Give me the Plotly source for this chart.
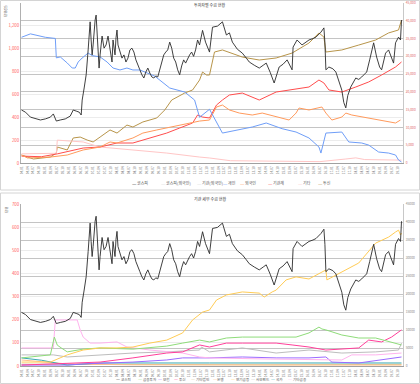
import plotly.graph_objects as go

FONT = "Noto Sans CJK KR, Noto Sans, DejaVu Sans, sans-serif"
W, H = 420, 384

# ---------------- x axis: half-month period index, quarterly tick labels ----------------
tick_periods = [q * 6 for q in range(64)]
tick_labels = [f"{(2004 + q // 4) % 100:02d}.{(q % 4) * 3 + 1:02d}" for q in range(64)]

# ---------------- index line (right axis, both panels) ----------------
kospi_t = [0, 4, 9, 14, 19, 24, 29, 32, 35, 39, 44, 49, 52, 55, 58, 60, 61, 63, 65, 67, 68, 69, 70, 71,
           72, 73, 74, 75, 76, 77, 78, 79, 81, 83, 85, 87, 89, 91, 92, 94, 95, 96, 97, 99, 101, 103, 105,
           107, 109, 111, 113, 115, 117, 119, 121, 123, 125, 127, 129, 131, 133, 135, 137, 139, 141, 143,
           145, 147, 149, 151, 153, 155, 157, 159, 161, 163, 165, 167, 169, 171, 173, 175, 177, 179, 182,
           185, 189, 192, 197, 202, 206, 209, 212, 217, 222, 226, 229, 234, 239, 243, 246, 250, 254, 259,
           263, 267, 272, 273, 277, 282, 286, 289, 293, 296, 301, 303, 304, 305, 306, 309, 313, 316, 319,
           322, 324, 326, 328, 331, 336, 339, 342, 347, 350, 352, 354, 357, 360, 362, 366, 369, 372, 374,
           376, 379, 381, 382]
kospi_v = [14900, 14300, 12900, 12400, 12100, 12400, 12900, 13800, 11800, 12100, 12400, 13200, 14900, 14600,
           14300, 13500, 17700, 21100, 24800, 31800, 36000, 39700, 34600, 30400, 33200, 37400, 40200, 41600,
           35700, 29000, 26700, 30400, 35700, 32300, 33200, 35700, 31200, 28400, 34600, 30400, 35200, 37400,
           33200, 31200, 29500, 30400, 28400, 29500, 31800, 32300, 31200, 29000, 27300, 26200, 24800, 23900,
           25600, 26700, 25300, 24200, 23900, 24500, 24200, 26200, 28100, 30400, 31200, 31800, 34000, 32300,
           29500, 28400, 26200, 24800, 27300, 29000, 28100, 29500, 30400, 31200, 30000, 31800, 34600, 33200,
           37300, 34000, 31200, 38200, 38500, 39700, 36000, 36600, 34000, 32000, 30900, 29500, 28400, 27500,
           26700, 27500, 28100, 25500, 22500, 27000, 27800, 29000, 26200, 32600, 34600, 33200, 34000, 34600,
           35000, 35400, 36800, 37400, 38000, 33800, 26200, 27000, 26500, 25600, 23300, 20500, 17000, 15500,
           19000, 21400, 23900, 23500, 24200, 25600, 29000, 31800, 33800, 29800, 27000, 26200, 30900, 31800,
           29800, 28100, 33800, 35400, 34600, 40200]

# ---------------- top panel series (left axis) ----------------
retail_t = [0, 9, 24, 34, 35, 39, 46, 51, 54, 57, 61, 67, 71, 79, 86, 92, 99, 106, 112, 119, 134, 149, 164,
            174, 179, 189, 202, 212, 222, 232, 246, 252, 262, 276, 289, 299, 301, 306, 322, 329, 342, 349,
            359, 369, 376, 379, 382]
retail_v = [1100, 1130, 1100, 1090, 920, 928, 875, 831, 831, 884, 919, 962, 940, 928, 884, 831, 814, 831,
            814, 814, 760, 656, 621, 551, 400, 470, 262, 280, 300, 315, 350, 332, 300, 271, 219, 140, 87, 262,
            271, 184, 175, 157, 96, 87, 70, 26, 9]

foreign_t = [0, 6, 29, 46, 62, 79, 89, 96, 112, 122, 136, 146, 159, 172, 179, 189, 196, 202, 209, 219, 232,
             242, 256, 269, 276, 279, 289, 302, 306, 312, 322, 326, 332, 349, 362, 376, 381]
foreign_v = [70, 44, 52, 70, 114, 140, 184, 175, 219, 262, 289, 306, 332, 350, 367, 376, 490, 507, 464, 437,
             420, 437, 402, 376, 437, 481, 464, 490, 437, 376, 402, 437, 420, 394, 376, 350, 376]

inst_t = [0, 20, 36, 62, 79, 96, 112, 129, 146, 159, 172, 177, 182, 189, 196, 202, 209, 222, 239, 256, 269,
          289, 299, 304, 309, 322, 336, 349, 362, 376, 382]
inst_v = [60, 55, 80, 131, 140, 175, 175, 219, 262, 306, 350, 420, 402, 394, 507, 551, 595, 612, 551, 621,
          639, 665, 726, 700, 639, 621, 665, 709, 770, 840, 884]

other_t = [0, 29, 35, 36, 62, 79, 112, 146, 179, 189, 210, 250, 300, 326, 336, 345, 382]
other_v = [80, 80, 85, 200, 184, 140, 114, 87, 52, 44, 20, 15, 12, 35, 45, 30, 25]

trust_t = [0, 12, 29, 35, 36, 46, 52, 59, 66, 72, 79, 86, 89, 96, 106, 112, 122, 136, 144, 151, 164, 172,
           179, 182, 186, 189, 194, 202, 222, 239, 256, 272, 289, 299, 304, 306, 322, 339, 356, 369, 379, 382]
trust_v = [70, 35, 52, 87, 140, 114, 219, 227, 201, 184, 227, 271, 289, 262, 332, 315, 359, 394, 464, 551,
           612, 639, 726, 796, 770, 770, 971, 989, 927, 901, 919, 962, 1050, 1138, 1102, 971, 989, 1032,
           1076, 1138, 1164, 1251]

# ---------------- bottom panel series (left axis) ----------------
pension_t = [0, 29, 46, 62, 79, 96, 112, 129, 146, 162, 172, 182, 189, 196, 206, 222, 239, 244, 252, 256,
             266, 276, 289, 306, 307, 322, 339, 356, 362, 369, 376, 379, 381, 382]
pension_v = [17, 17, 48, 69, 78, 78, 82, 99, 112, 143, 199, 233, 242, 285, 307, 320, 315, 298, 320, 328,
             372, 385, 376, 415, 372, 406, 445, 531, 544, 557, 579, 587, 566, 574]

fininv_t = [0, 29, 33, 36, 40, 46, 62, 79, 112, 146, 162, 179, 189, 206, 222, 256, 276, 289, 299, 302, 306,
            322, 339, 356, 372, 382]
fininv_v = [35, 48, 125, 90, 78, 61, 73, 78, 73, 86, 99, 112, 104, 121, 125, 125, 125, 143, 168, 160, 156,
            134, 121, 121, 104, 91]

invtrust_t = [0, 62, 79, 112, 146, 162, 179, 189, 206, 222, 256, 272, 289, 306, 322, 339, 349, 362, 372, 382]
invtrust_v = [4, 13, 17, 35, 56, 61, 91, 82, 99, 99, 99, 91, 82, 69, 73, 78, 112, 104, 125, 156]

otherfin_t = [0, 32, 34, 46, 56, 59, 62, 69, 79, 96, 106, 129, 146, 162, 179, 189, 250, 322, 332, 356, 382]
otherfin_v = [78, 78, 199, 199, 199, 156, 125, 99, 99, 104, 82, 69, 61, 56, 39, 35, 30, 26, 48, 48, 56]

private_t = [0, 32, 46, 79, 112, 146, 179, 181, 189, 222, 256, 289, 306, 322, 356, 379, 382]
private_v = [48, 48, 39, 48, 56, 61, 69, 82, 61, 78, 56, 69, 61, 56, 61, 69, 99]

insur_t = [0, 46, 62, 112, 146, 162, 189, 222, 256, 289, 306, 312, 339, 362, 382]
insur_v = [4, 4, 9, 17, 26, 35, 35, 39, 35, 35, 39, 17, 13, 26, 39]

nation_t = [0, 20, 46, 79, 189, 382]
nation_v = [35, 25, 4, 13, 13, 13]

bank_t = [0, 46, 112, 382]
bank_v = [26, 9, 5, 4]

corp_t = [0, 112, 250, 382]
corp_v = [8, 6, 5, 7]

# ---------------- figure ----------------
def px_x(p):
    return p / W

def px_y(p):
    return 1 - p / H

fig = go.Figure()

def line(t, v, color, xa, ya, width=1.0):
    fig.add_trace(go.Scatter(x=t, y=v, mode="lines", line=dict(color=color, width=width),
                             xaxis=xa, yaxis=ya, showlegend=False, hoverinfo="skip"))

C = dict(kospi="#2a2a2a", retail="#6f9ef8", foreign="#ff9a5c", inst="#ff4d4d", other="#ffc6c6",
         trust="#b8954a", pension="#ffcc55", fininv="#8fdc7a", invtrust="#ff3f9a", otherfin="#ffb3ee",
         private="#bdbdbd", insur="#9b6bff", nation="#3aa8b0", bank="#ffbe8c", corp="#d8c890")

# top panel
line(trust_t, trust_v, C["trust"], "x", "y")
line(other_t, other_v, C["other"], "x", "y")
line(inst_t, inst_v, C["inst"], "x", "y")
line(foreign_t, foreign_v, C["foreign"], "x", "y")
line(retail_t, retail_v, C["retail"], "x", "y")
line(kospi_t, kospi_v, C["kospi"], "x", "y2", 0.9)

# bottom panel
line(corp_t, corp_v, C["corp"], "x2", "y3")
line(bank_t, bank_v, C["bank"], "x2", "y3")
line(nation_t, nation_v, C["nation"], "x2", "y3")
line(insur_t, insur_v, C["insur"], "x2", "y3")
line(private_t, private_v, C["private"], "x2", "y3")
line(otherfin_t, otherfin_v, C["otherfin"], "x2", "y3")
line(invtrust_t, invtrust_v, C["invtrust"], "x2", "y3")
line(fininv_t, fininv_v, C["fininv"], "x2", "y3")
line(pension_t, pension_v, C["pension"], "x2", "y3")
line(kospi_t, kospi_v, C["kospi"], "x2", "y4", 0.9)

xdom = [px_x(21), px_x(403)]
top_dom = [px_y(163), px_y(3)]
bot_dom = [px_y(366), px_y(204)]

xcommon = dict(domain=xdom, range=[-0.5, 383.5], tickmode="array", tickvals=tick_periods,
               ticktext=tick_labels, tickangle=-90, tickfont=dict(size=3.2, color="#666", family=FONT),
               showgrid=False, showline=True, linecolor="#a0a0a0", linewidth=1, ticks="",
               zeroline=False, automargin=False, fixedrange=True, ticklabelstandoff=1)

def yleft(dom, rng, dt, fmt):
    return dict(domain=dom, range=rng, dtick=dt, tickformat=fmt, showline=True, linecolor="#b0b0b0",
                linewidth=1, showgrid=True, gridcolor="#ececec", gridwidth=1, zeroline=False, ticks="",
                tickfont=dict(size=4.3, color="#ff5a5a", family=FONT), automargin=False)

def yright(over, anchor, fmt, col):
    return dict(overlaying=over, anchor=anchor, side="right", range=[0, 45000], dtick=5000,
                tickformat=fmt, showline=True, linecolor="#c8c8c8", linewidth=1, showgrid=True,
                gridcolor="#c4c4c4", gridwidth=1, zeroline=False, ticks="", ticklabelstandoff=1,
                tickfont=dict(size=3.3, color=col, family=FONT), automargin=False)

fig.update_layout(
    width=W, height=H, margin=dict(l=0, r=0, t=0, b=0),
    paper_bgcolor="white", plot_bgcolor="white", showlegend=False,
    font=dict(family=FONT, size=5, color="#444"),
    xaxis=dict(**xcommon, anchor="y"),
    xaxis2=dict(**xcommon, anchor="y3"),
    yaxis=yleft(top_dom, [0, 1400], 200, ","),
    yaxis2=yright("y", "x", ",", "#e06a6a"),
    yaxis3=yleft(bot_dom, [0, 700], 100, "d"),
    yaxis4=yright("y3", "x2", "d", "#888888"),
)

# chart frames
fig.add_shape(type="rect", xref="paper", yref="paper", x0=px_x(0.5), x1=px_x(419.5),
              y0=px_y(190), y1=px_y(0.5), line=dict(color="#d4d4d4", width=1), layer="below")
fig.add_shape(type="rect", xref="paper", yref="paper", x0=px_x(0.5), x1=px_x(419.5),
              y0=px_y(383.5), y1=px_y(193), line=dict(color="#d4d4d4", width=1), layer="below")

ann = []
def text(s, x, y, size=4, anchor="left", color="#444", angle=0):
    ann.append(dict(text=s, x=px_x(x), y=px_y(y), xref="paper", yref="paper", showarrow=False,
                    xanchor=anchor, yanchor="middle", textangle=angle, borderpad=0,
                    font=dict(size=size, color=color, family=FONT)))

# titles and unit labels
text("투자자별 수급 현황", 210, 5, 4, "center", "#333")
text("기관 세부 수급 현황", 210, 199, 4, "center", "#333")
text("단위(억)", 5, 11, 3.5, "center", "#444", -90)
text("단위", 6, 210, 3.5, "center", "#444", -90)

# legends (colour dash + label as separate texts)
top_legend = [("코스피", C["kospi"]), ("코스피(외국인)", "#d8d8d8"), ("기관(외국인)", "#d8d8d8"),
              ("개인", C["retail"]), ("외국인", C["foreign"]), ("기관계", C["inst"]),
              ("기타", C["other"]), ("투신", C["trust"])]
top_legend_x = [131, 160, 196, 222, 239, 267, 297, 317]
bot_legend = [("코스피", C["kospi"]), ("금융투자", C["fininv"]), ("보험", C["insur"]),
              ("투신", C["invtrust"]), ("기타법인", C["corp"]), ("은행", C["bank"]),
              ("연기금등", C["pension"]), ("사모펀드", C["private"]), ("국가", C["nation"]),
              ("기타금융", C["otherfin"])]
bot_legend_x = [115, 137, 157, 173, 190, 212, 230, 250, 270, 287]

for (name, col), x in zip(top_legend, top_legend_x):
    text("—", x, 183, 5, "left", col)
    text(name, x + 5, 183, 4, "left", "#555")
for (name, col), x in zip(bot_legend, bot_legend_x):
    text("—", x, 379, 4.5, "left", col)
    text(name, x + 4.5, 379, 3.6, "left", "#555")

fig.update_layout(annotations=ann)
fig.write_html(
    "out.html",
    config={"displayModeBar": False, "staticPlot": True},
    post_script="document.body.style.margin='0';document.body.style.padding='0';"
                "document.body.style.overflow='hidden';",
)
